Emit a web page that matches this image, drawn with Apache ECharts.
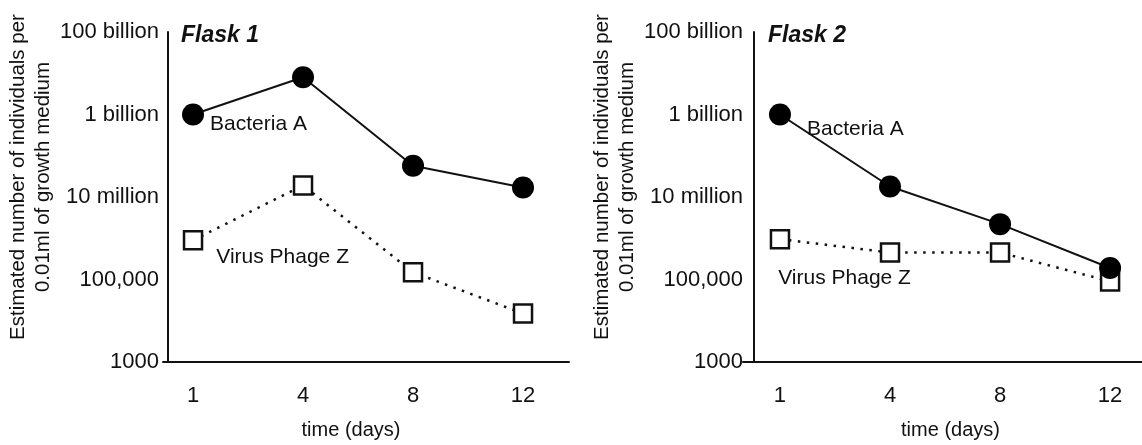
<!DOCTYPE html>
<html>
<head>
<meta charset="utf-8">
<script src="https://cdn.jsdelivr.net/npm/echarts@6/dist/echarts.min.js"></script>
<style>
html,body{margin:0;padding:0;background:#fff;}
#chart{width:1142px;height:445px;}
</style>
</head>
<body>
<div id="chart"></div>
<script>
const days = ['1', '4', '8', '12'];
const flask1Bacteria = [1e9, 8e9, 5.7e7, 1.7e7];
const flask1Virus = [9e5, 1.9e7, 1.5e5, 1.5e4];
const flask2Bacteria = [1e9, 1.8e7, 2.2e6, 1.9e5];
const flask2Virus = [9.5e5, 4.5e5, 4.5e5, 9e4];
const yTickValues = [1e3, 1e5, 1e7, 1e9, 1e11];
const yTickLabels = ['1000', '100,000', '10 million', '1 billion', '100 billion'];
const panelTitles = ['Flask 1', 'Flask 2'];
const seriesNames = ['Bacteria A', 'Virus Phage Z'];
const yAxisName = 'Estimated number of individuals per\n0.01ml of growth medium';
const xAxisName = 'time (days)';

const FONT = '"Liberation Sans", Arial, Helvetica, sans-serif';
const INK = '#111';

function yLabel(v) {
  const e = Math.log10(v);
  const r = Math.round(e);
  if (Math.abs(e - r) > 1e-6) return '';
  const i = yTickValues.findIndex(t => Math.round(Math.log10(t)) === r);
  return i >= 0 ? yTickLabels[i] : '';
}
function toPts(arr) { return arr.map((v, i) => [i, v]); }

const chart = echarts.init(document.getElementById('chart'), null, {renderer: 'canvas'});

const grids = [
  {left: 163, top: 32, width: 406, height: 331},
  {left: 743, top: 32, width: 399, height: 331}
];
const xRanges = [[-0.273, 3.418], [-0.336, 3.29]];
const yOffsets = [-5, -11];
const yMargins = [9, 11];
const nameShift = [[0, 30, 0, 0], [0, 0, 0, 16]];

const xAxes = [0, 1].map(k => ({
  type: 'value', gridIndex: k, min: xRanges[k][0], max: xRanges[k][1],
  axisLine: {onZero: false, lineStyle: {color: INK, width: 2}},
  axisTick: {show: false},
  splitLine: {show: false},
  axisLabel: {
    customValues: [0, 1, 2, 3],
    formatter: v => days[Math.round(v)] || '',
    color: INK, fontFamily: FONT, fontSize: 22, margin: 23
  },
  name: xAxisName, nameLocation: 'middle', nameGap: 58,
  nameTextStyle: {color: INK, fontFamily: FONT, fontSize: 20, padding: nameShift[k]}
}));

const yAxes = [0, 1].map(k => ({
  type: 'log', logBase: 10, gridIndex: k, min: 1e3, max: 1e11,
  offset: yOffsets[k],
  axisLine: {onZero: false, lineStyle: {color: INK, width: 2}},
  axisTick: {show: false},
  splitLine: {show: false},
  axisLabel: {formatter: yLabel, color: INK, fontFamily: FONT, fontSize: 22, margin: yMargins[k]},
  name: yAxisName, nameLocation: 'middle', nameGap: 106,
  nameTextStyle: {color: INK, fontFamily: FONT, fontSize: 20.5, lineHeight: 25, padding: [0, 0, 0, 40]}
}));

function bacteriaSeries(k, data, labelOpt) {
  const d = toPts(data);
  d[0] = {value: d[0], label: Object.assign({show: true, formatter: seriesNames[0], color: INK, fontFamily: FONT, fontSize: 21}, labelOpt)};
  return {
    type: 'line', name: seriesNames[0], xAxisIndex: k, yAxisIndex: k, data: d,
    symbol: 'circle', symbolSize: 22, z: 4,
    lineStyle: {color: INK, width: 2},
    itemStyle: {color: '#000', borderWidth: 0},
    emphasis: {disabled: true}, animation: false
  };
}
function virusSeries(k, data, labelOpt) {
  const d = toPts(data);
  d[0] = {value: d[0], label: Object.assign({show: true, formatter: seriesNames[1], color: INK, fontFamily: FONT, fontSize: 21}, labelOpt)};
  return {
    type: 'line', name: seriesNames[1], xAxisIndex: k, yAxisIndex: k, data: d,
    symbol: 'rect', symbolSize: 18, z: 3,
    lineStyle: {color: INK, width: 2.5, type: [2.5, 6.5]},
    itemStyle: {color: '#fff', borderColor: INK, borderWidth: 2.5},
    emphasis: {disabled: true}, animation: false
  };
}

const option = {
  backgroundColor: '#fff',
  animation: false,
  title: [
    {text: panelTitles[0], left: 176, top: 19, textStyle: {fontFamily: FONT, fontSize: 23, fontWeight: 'bold', fontStyle: 'italic', color: INK}},
    {text: panelTitles[1], left: 763, top: 19, textStyle: {fontFamily: FONT, fontSize: 23, fontWeight: 'bold', fontStyle: 'italic', color: INK}}
  ],
  grid: grids,
  xAxis: xAxes,
  yAxis: yAxes,
  series: [
    virusSeries(0, flask1Virus, {position: 'right', distance: 13, offset: [0, 17]}),
    bacteriaSeries(0, flask1Bacteria, {position: 'right', distance: 6, offset: [0, 10]}),
    virusSeries(1, flask2Virus, {position: 'right', distance: 5, offset: [-17, 39]}),
    bacteriaSeries(1, flask2Bacteria, {position: 'right', distance: 16, offset: [0, 15]})
  ]
};
chart.setOption(option);
</script>
</body>
</html>
